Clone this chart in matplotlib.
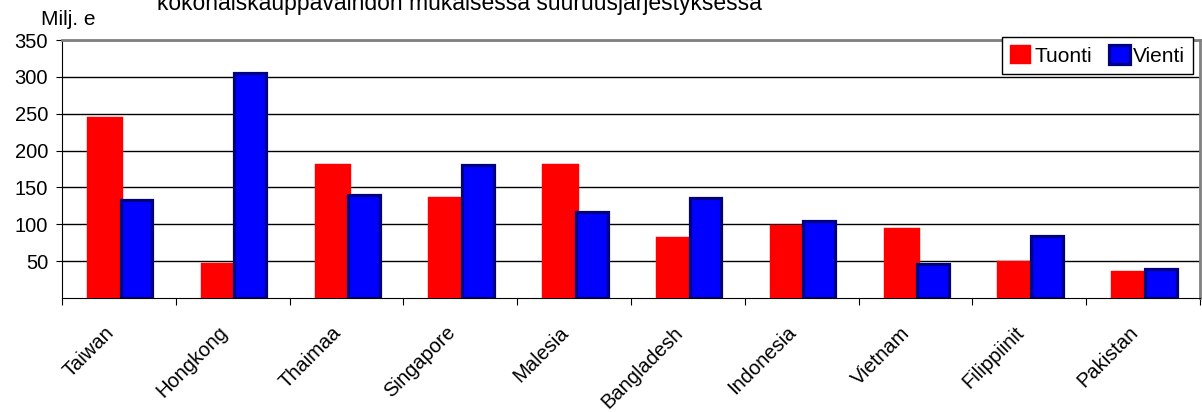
import numpy as np
import matplotlib.pyplot as plt
from matplotlib.transforms import ScaledTranslation

plt.rcParams['font.family'] = ['Liberation Sans', 'DejaVu Sans']

maat = ['Taiwan', 'Hongkong', 'Thaimaa', 'Singapore', 'Malesia',
        'Bangladesh', 'Indonesia', 'Vietnam', 'Filippiinit', 'Pakistan']
tuonti = [245, 47, 182, 137, 182, 83, 99, 95, 50, 37]
vienti = [133, 305, 140, 180, 117, 136, 104, 46, 84, 40]
yticks = [50, 100, 150, 200, 250, 300, 350]

fig = plt.figure(figsize=(12.02, 4.12), dpi=100)
ax = fig.add_axes([62/1202, 1-298/412, 1138/1202, 258/412])

x = np.arange(len(maat))
ax.bar(x + 0.38, tuonti, 0.32, color='#ff0000', edgecolor='#ff0000', linewidth=0.3,
       label='Tuonti', zorder=3)
ax.bar(x + 0.655, vienti, 0.28, color='#0000ff', edgecolor='#000080', linewidth=2.3,
       label='Vienti', zorder=4)

ax.set_xlim(0, len(maat))
ax.set_ylim(0, 350)
ax.set_yticks(yticks)
ax.set_yticklabels([str(v) for v in yticks], fontsize=14.5)
ax.yaxis.grid(True, color='black', linewidth=1, zorder=0)
ax.set_axisbelow(True)

# kategoriarajat isoina tikkeinä, nimet keskelle
ax.set_xticks(np.arange(len(maat) + 1))
ax.set_xticklabels([])
ax.set_xticks(x + 0.5, minor=True)
ax.set_xticklabels(maat, minor=True, rotation=45, ha='right', va='top',
                   rotation_mode='anchor', fontsize=14.5)
ax.tick_params(axis='x', which='minor', length=0, pad=18)
ax.tick_params(axis='x', which='major', length=5, direction='out', color='black')
ax.tick_params(axis='y', length=4, direction='out', pad=6)
shift = ScaledTranslation(-15/100, 0, fig.dpi_scale_trans)
for lab in ax.get_xticklabels(minor=True):
    lab.set_transform(lab.get_transform() + shift)

ax.spines['top'].set_color('#808080')
ax.spines['top'].set_linewidth(2)
ax.spines['right'].set_color('#808080')
ax.spines['right'].set_linewidth(2)
ax.spines['left'].set_color('black')
ax.spines['bottom'].set_color('black')

fig.text(41/1202, 1-25/412, 'Milj. e', fontsize=15, va='baseline', ha='left')
fig.text(157/1202, 1-10/412, 'kokonaiskauppavaihdon mukaisessa suuruusjärjestyksessä',
         fontsize=16.5, va='baseline', ha='left')

leg = ax.legend(loc='upper right', ncol=2, fontsize=15,
                frameon=True, fancybox=False, edgecolor='black', framealpha=1,
                handlelength=1.0, handleheight=1.0, handletextpad=0.15,
                columnspacing=0.8, borderpad=0.4, borderaxespad=0)
leg.get_frame().set_linewidth(1)
leg.set_bbox_to_anchor((1193/1202, 1-37/412), transform=fig.transFigure)
leg.set_zorder(10)

fig.savefig('out.png', dpi=100)
